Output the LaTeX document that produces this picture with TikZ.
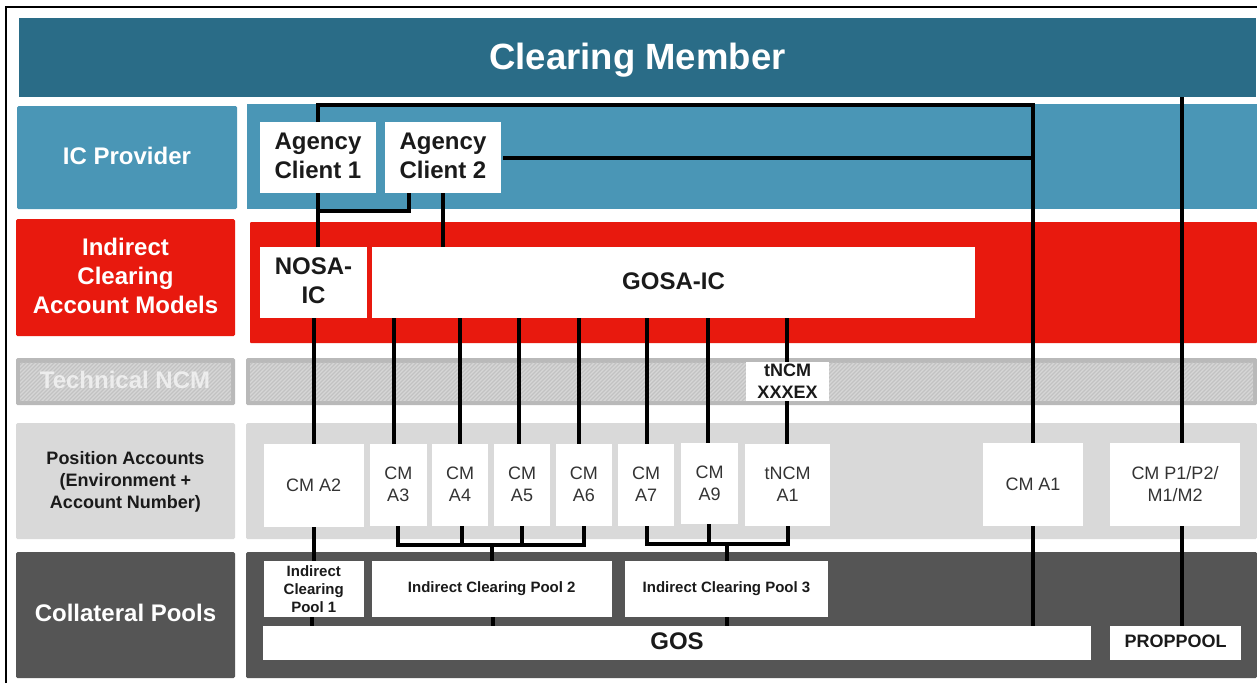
\documentclass[tikz,border=0pt]{standalone}
\usepackage{fontspec}
\setmainfont{Liberation Sans}
\definecolor{barteal}{HTML}{2A6C87}
\definecolor{icblue}{HTML}{4A96B6}
\definecolor{icred}{HTML}{E8190E}
\definecolor{lightband}{HTML}{D9D9D9}
\definecolor{darkband}{HTML}{555555}
\definecolor{hatchedge}{HTML}{B9B9B9}
\definecolor{hatchbase}{HTML}{D6D6D6}
\definecolor{hatchline}{HTML}{C2C2C2}
\definecolor{techtext}{HTML}{EDEDED}
\definecolor{blacktext}{HTML}{1A1A1A}
\definecolor{softtext}{HTML}{333333}
\newcommand{\bx}[7][]{%
  \pgfmathsetmacro{\bxw}{#4-#2}%
  \pgfmathsetmacro{\bxh}{#5-#3}%
  \pgfmathsetmacro{\bxcx}{(#2+#4)/2}%
  \pgfmathsetmacro{\bxcy}{(#3+#5)/2}%
  \node[#6,minimum width=\bxw pt,minimum height=\bxh pt,#1] (#7) at (\bxcx,\bxcy)}
\tikzset{
  x=1pt,y=-1pt,
  every node/.style={inner sep=0pt,outer sep=0pt,align=center},
  big/.style={font=\fontsize{24}{29}\selectfont\bfseries,text depth=3.5pt},
  mid/.style={font=\fontsize{18}{22}\selectfont\bfseries},
  reg/.style={font=\fontsize{18}{22}\selectfont},
  small/.style={font=\fontsize{15}{18}\selectfont\bfseries},
  head/.style={fill=barteal,text=white,font=\fontsize{36.5}{40}\selectfont\bfseries,text height=32.6pt,text depth=7.7pt},
  ictag/.style={fill=icblue,text=white,big,rounded corners=1.5pt},
  redtag/.style={fill=icred,text=white,big,rounded corners=1.5pt},
  lighttag/.style={fill=lightband,text=blacktext,mid,rounded corners=1.5pt,text depth=2pt},
  darktag/.style={fill=darkband,text=white,big,rounded corners=1.5pt},
  hatchband/.style={fill=hatchedge,rounded corners=1.5pt},
  icband/.style={fill=icblue},
  redband/.style={fill=icred,rounded corners=1pt},
  plainlight/.style={fill=lightband,rounded corners=1.5pt},
  plaindark/.style={fill=darkband,rounded corners=1.5pt},
  whitebig/.style={fill=white,text=blacktext,big},
  whitemid/.style={fill=white,text=blacktext,mid},
  whitereg/.style={fill=white,text=softtext,reg},
  whitetwo/.style={whitereg,text depth=2pt},
  whitesmall/.style={fill=white,text=blacktext,small},
  conn/.style={draw=black,line width=4.4pt,line cap=butt,line join=miter},
  connthin/.style={draw=black,line width=4pt,line cap=butt,line join=miter},
}
\begin{document}
\begin{tikzpicture}
\useasboundingbox (0,0) rectangle (1257,683);
\fill[white] (0,0) rectangle (1257,683);
% outer frame
\draw[black,line width=2pt] (5.5,683) -- (5.5,6.5) -- (1257,6.5);
% bands
\bx{19}{18}{1256}{97}{head}{clearing} {Clearing Member};
\bx{17}{106}{237}{209}{ictag}{ictag} {IC Provider};
\bx{247}{104}{1257}{209}{icband}{icband} {};
\bx{16}{219}{235}{336}{redtag}{redtag} {Indirect\\Clearing\\Account Models};
\bx{250}{222}{1257}{343}{redband}{redband} {};
\bx{16}{358}{235}{405}{hatchband}{techtag} {};
\bx{246}{358}{1257}{405}{hatchband}{techband} {};
\foreach \xa/\xb in {20/231,250/1253}{
  \fill[hatchbase] (\xa,362.5) rectangle (\xb,401);
  \begin{scope}
    \clip (\xa,362.5) rectangle (\xb,401);
    \pgfmathsetmacro{\xstart}{\xa-40}
    \pgfmathsetmacro{\xnext}{\xa-36}
    \foreach \hx in {\xstart,\xnext,...,\xb}{
      \draw[hatchline,line width=1.3pt] (\hx,401) -- (\hx+38.5,362.5);
    }
  \end{scope}
}
\node[big,text=techtext,text depth=0pt] (techlabel) at (125,380) {Technical NCM};
\bx{16}{423}{235}{539}{lighttag}{postag} {Position Accounts\\(Environment +\\Account Number)};
\bx{246}{423}{1257}{539}{plainlight}{posband} {};
\bx{16}{552}{235}{678}{darktag}{colltag} {Collateral Pools};
\bx{246}{552}{1257}{678}{plaindark}{collband} {};
% white boxes
\bx{260}{122}{376}{193}{whitebig}{ac1} {Agency\\Client 1};
\bx{385}{122}{501}{193}{whitebig}{ac2} {Agency\\Client 2};
\bx{260}{247}{367}{318}{whitebig}{nosa} {NOSA-\\IC};
\bx{372}{247}{975}{318}{whitebig,text depth=2pt}{gosa} {GOSA-IC};
\bx{746}{362}{829}{401}{whitemid}{tncmx} {tNCM\\XXXEX};
\bx{264}{444}{363.5}{527}{whitereg}{cma2} {CM A2};
\bx{370}{444}{426.5}{526}{whitetwo}{cma3} {CM\\A3};
\bx{432}{444}{488}{526}{whitetwo}{cma4} {CM\\A4};
\bx{494}{444}{550}{526}{whitetwo}{cma5} {CM\\A5};
\bx{556}{444}{611.5}{526}{whitetwo}{cma6} {CM\\A6};
\bx{618}{444}{674}{526}{whitetwo}{cma7} {CM\\A7};
\bx{681}{443}{738}{524}{whitereg}{cma9} {CM\\A9};
\bx{745}{444}{830}{526}{whitetwo}{tncma} {tNCM\\A1};
\bx{983}{443}{1083}{526}{whitereg}{cma1} {CM A1};
\bx{1110}{443}{1240}{526}{whitetwo}{cmp} {CM P1/P2/\\M1/M2};
\bx{264}{561}{363.5}{617}{whitesmall}{pool1} {Indirect\\Clearing\\Pool 1};
\bx{372}{561}{611.5}{617}{whitesmall}{pool2} {Indirect Clearing Pool 2};
\bx{625}{561}{828}{617}{whitesmall}{pool3} {Indirect Clearing Pool 3};
\bx{263}{626}{1091}{660}{whitebig}{gos} {GOS};
\bx[text depth=4pt]{1110}{626}{1241}{660}{whitemid}{prop} {PROPPOOL};
% routing coordinates
\foreach \v in {312,314,318,394,398,409,443,460,462,492,493,519,522,579,584,647,708,709,727,787,788,1033,1182}{
  \coordinate (x\v) at (\v,0);
}
\coordinate (ytop) at (0,105);
\coordinate (ybranch) at (0,211);
\coordinate (ybrA) at (0,545);
\coordinate (ybrB) at (0,544);
% connectors, top part
\draw[connthin] (ac1.north -| x318) -- (x318 |- ytop) -- (x1033 |- ytop) -- (cma1.north -| x1033);
\draw[connthin] ([xshift=2pt]ac2.east) -- (ac2.east -| x1033);
\draw[connthin] (clearing.south -| x1182) -- (cmp.north -| x1182);
\draw[conn] (ac1.south -| x318) -- (nosa.north -| x318);
\draw[connthin] (x318 |- ybranch) -- (x409 |- ybranch) -- (ac2.south -| x409);
\draw[connthin] (ac2.south -| x443) -- (gosa.north -| x443);
% connectors, accounts
\draw[connthin] (nosa.south -| x314) -- (cma2.north -| x314);
\draw[connthin] (gosa.south -| x394) -- (cma3.north -| x394);
\draw[connthin] (gosa.south -| x460) -- (cma4.north -| x460);
\draw[connthin] (gosa.south -| x519) -- (cma5.north -| x519);
\draw[connthin] (gosa.south -| x579) -- (cma6.north -| x579);
\draw[connthin] (gosa.south -| x647) -- (cma7.north -| x647);
\draw[connthin] (gosa.south -| x708) -- (cma9.north -| x708);
\draw[connthin] (gosa.south -| x787) -- (tncmx.north -| x787);
\draw[connthin] (tncmx.south -| x787) -- (tncma.north -| x787);
% connectors, pools
\draw[connthin] (cma2.south -| x314) -- (pool1.north -| x314);
\draw[connthin] (cma3.south -| x398) -- (x398 |- ybrA) -- (x584 |- ybrA) -- (cma6.south -| x584);
\draw[connthin] (cma4.south -| x462) -- (x462 |- ybrA);
\draw[connthin] (cma5.south -| x522) -- (x522 |- ybrA);
\draw[connthin] (x492 |- ybrA) -- (pool2.north -| x492);
\draw[connthin] (cma7.south -| x647) -- (x647 |- ybrB) -- (x788 |- ybrB) -- (tncma.south -| x788);
\draw[connthin] (cma9.south -| x709) -- (x709 |- ybrB);
\draw[connthin] (x727 |- ybrB) -- (pool3.north -| x727);
\draw[connthin] (pool1.south -| x312) -- (gos.north -| x312);
\draw[connthin] (pool2.south -| x493) -- (gos.north -| x493);
\draw[connthin] (pool3.south -| x727) -- (gos.north -| x727);
\draw[connthin] (cma1.south -| x1033) -- (gos.north -| x1033);
\draw[connthin] (cmp.south -| x1182) -- (prop.north -| x1182);
\end{tikzpicture}
\end{document}
